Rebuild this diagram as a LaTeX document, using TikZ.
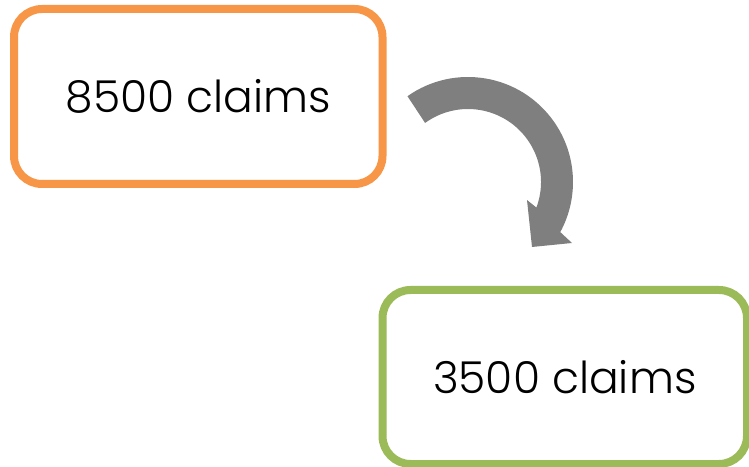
\documentclass[tikz,border=0pt]{standalone}
\usepackage{fontspec}
\setmainfont{Poppins}[UprightFont=* Light]
\definecolor{boxorange}{HTML}{F79646}
\definecolor{boxgreen}{HTML}{9BBB59}
\definecolor{arrowgray}{HTML}{7F7F7F}
\begin{document}
\begin{tikzpicture}[x=1pt,y=1pt,
  countbox/.style={draw, line width=8pt, rounded corners=28pt, fill=white,
    inner sep=0pt, font=\fontsize{44}{48}\selectfont},
]
\useasboundingbox (0,0) rectangle (749,466);
% before and after boxes
\node[countbox, draw=boxorange, minimum width=368.5pt, minimum height=175pt]
  (before) at (198.25,369.5) {8500 claims};
\node[countbox, draw=boxgreen, minimum width=364.5pt, minimum height=174pt]
  (after) at (564.75,89) {3500 claims};
% curved block arrow between them
\coordinate (turn) at (468,284);
\fill[arrowgray]
  ([shift={(125.2:105)}]turn) arc[start angle=125.2, end angle=-28.5, radius=105]
  -- (572,223) -- (532,219) -- (527,266)
  -- ([shift={(-20.5:73)}]turn) arc[start angle=-20.5, end angle=126, radius=73]
  -- cycle;
\end{tikzpicture}
\end{document}
